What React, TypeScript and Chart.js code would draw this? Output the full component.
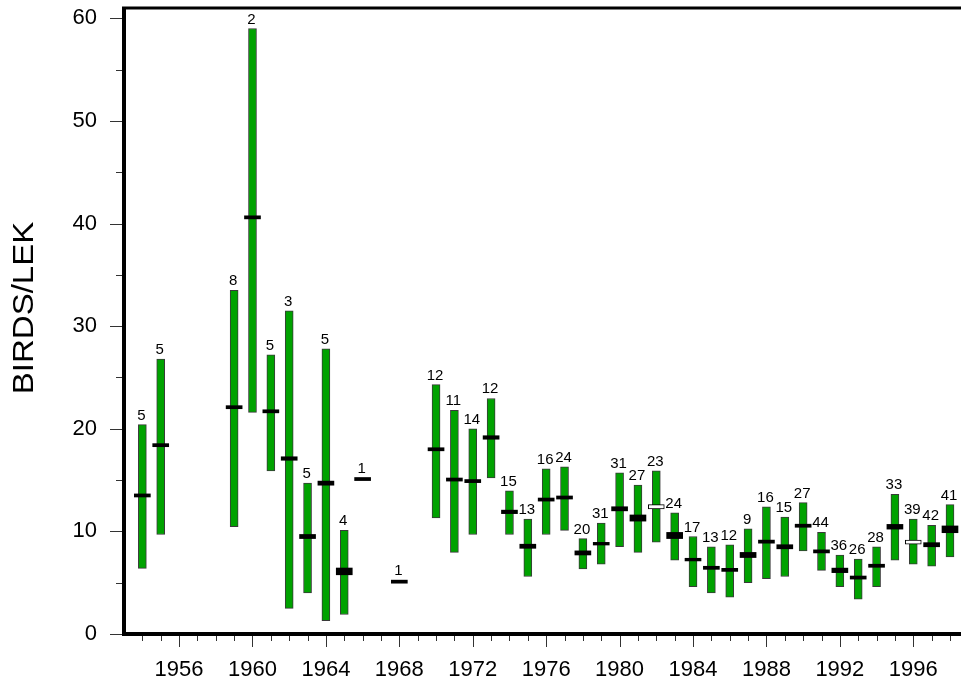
import { useEffect, useRef } from 'react';
import { Chart, registerables } from 'chart.js';

Chart.register(...registerables);

// ---- data ----
const years = [1954, 1955, 1959, 1960, 1961, 1962, 1963, 1964, 1965, 1966, 1968, 1970, 1971, 1972, 1973, 1974, 1975, 1976, 1977, 1978, 1979, 1980, 1981, 1982, 1983, 1984, 1985, 1986, 1987, 1988, 1989, 1990, 1991, 1992, 1993, 1994, 1995, 1996, 1997, 1998];
const lows: (number | null)[] = [6.4, 9.7, 10.45, 21.6, 15.9, 2.5, 4.0, 1.3, 1.9, null, null, 11.3, 7.95, 9.7, 15.2, 9.7, 5.6, 9.7, 10.1, 6.35, 6.8, 8.5, 7.95, 8.95, 7.2, 4.6, 4.0, 3.6, 5.0, 5.4, 5.6, 8.1, 6.2, 4.6, 3.4, 4.6, 7.2, 6.8, 6.6, 7.5];
const highs: (number | null)[] = [20.4, 26.8, 33.5, 59.0, 27.2, 31.5, 14.7, 27.8, 10.1, null, null, 24.3, 21.8, 20.0, 22.95, 13.95, 11.2, 16.1, 16.3, 9.3, 10.8, 15.7, 14.5, 15.9, 11.8, 9.5, 8.5, 8.7, 10.25, 12.4, 11.4, 12.8, 9.9, 7.7, 7.3, 8.5, 13.6, 11.2, 10.6, 12.6];
const means = [13.5, 18.4, 22.1, 40.6, 21.7, 17.1, 9.5, 14.7, 6.1, 15.1, 5.1, 18.0, 15.05, 14.9, 19.15, 11.9, 8.55, 13.1, 13.3, 7.9, 8.8, 12.2, 11.3, 12.4, 9.6, 7.25, 6.45, 6.25, 7.7, 9.0, 8.5, 10.55, 8.05, 6.2, 5.5, 6.65, 10.45, 8.95, 8.7, 10.2];
const stdErrs = [0.15, 0.15, 0.15, 0.15, 0.15, 0.17, 0.2, 0.2, 0.33, 0.15, 0.15, 0.15, 0.15, 0.15, 0.17, 0.17, 0.2, 0.15, 0.15, 0.2, 0.13, 0.2, 0.3, 0.2, 0.3, 0.13, 0.15, 0.15, 0.25, 0.15, 0.2, 0.15, 0.15, 0.22, 0.15, 0.15, 0.23, 0.2, 0.2, 0.33];
const lekCounts = [5, 5, 8, 2, 5, 3, 5, 5, 4, 1, 1, 12, 11, 14, 12, 15, 13, 16, 24, 20, 31, 31, 27, 23, 24, 17, 13, 12, 9, 16, 15, 27, 44, 36, 26, 28, 33, 39, 42, 41];
const openMeanYears = [1982, 1996];
const xTickLabels = [1956, 1960, 1964, 1968, 1972, 1976, 1980, 1984, 1988, 1992, 1996];
const yTickLabels = [0, 10, 20, 30, 40, 50, 60];
const yAxisTitle = 'BIRDS/LEK';

const FONT = 'Arial, "Liberation Sans", sans-serif';

export default function App() {
  const ref = useRef<HTMLCanvasElement | null>(null);

  useEffect(() => {
    const canvas = ref.current;
    if (!canvas) return;

    const rangeData = years.map((y, i) => ({ x: y, y: lows[i] == null ? null : [lows[i], highs[i]] }));
    const meanData = years.map((y, i) => ({ x: y, y: [means[i] - stdErrs[i], means[i] + stdErrs[i]] }));
    const isOpen = (i: number) => openMeanYears.includes(years[i]);

    const axesPlugin = {
      id: 'customAxes',
      afterDraw(chart: any) {
        const ctx = chart.ctx as CanvasRenderingContext2D;
        const xs = chart.scales.x;
        const ys = chart.scales.y;
        const area = chart.chartArea;
        ctx.save();
        // ticks
        ctx.strokeStyle = '#333';
        ctx.lineWidth = 1;
        for (let v = 0; v <= 60; v += 5) {
          const py = Math.round(ys.getPixelForValue(v)) + 0.5;
          const len = v % 10 === 0 ? 14 : 8;
          ctx.beginPath();
          ctx.moveTo(area.left - len, py);
          ctx.lineTo(area.left, py);
          ctx.stroke();
        }
        for (let yr = Math.ceil(xs.min + 0.5); yr <= Math.floor(xs.max); yr++) {
          const px = Math.round(xs.getPixelForValue(yr)) + 0.5;
          const len = yr % 4 === 0 ? 13 : 7;
          ctx.beginPath();
          ctx.moveTo(px, area.bottom);
          ctx.lineTo(px, area.bottom + len);
          ctx.stroke();
        }
        // axis lines
        ctx.strokeStyle = '#000';
        ctx.lineWidth = 4;
        ctx.beginPath();
        ctx.moveTo(area.left, area.top);
        ctx.lineTo(area.left, area.bottom + 2);
        ctx.stroke();
        ctx.beginPath();
        ctx.moveTo(area.left - 2, area.bottom);
        ctx.lineTo(area.right, area.bottom);
        ctx.stroke();
        ctx.lineWidth = 3;
        ctx.beginPath();
        ctx.moveTo(area.left - 2, area.top);
        ctx.lineTo(area.right, area.top);
        ctx.stroke();
        // tick labels
        ctx.fillStyle = '#000';
        ctx.font = `22px ${FONT}`;
        ctx.textAlign = 'center';
        ctx.textBaseline = 'alphabetic';
        xTickLabels.forEach((yr) => {
          ctx.fillText(String(yr), xs.getPixelForValue(yr), area.bottom + 42);
        });
        ctx.textAlign = 'right';
        yTickLabels.forEach((v) => {
          ctx.fillText(String(v), area.left - 27, ys.getPixelForValue(v) + 6);
        });
        // axis title
        ctx.save();
        ctx.translate(33, (area.top + area.bottom) / 2 - 13);
        ctx.rotate(-Math.PI / 2);
        ctx.scale(1.1, 1);
        ctx.textAlign = 'center';
        ctx.font = `30px ${FONT}`;
        ctx.fillText(yAxisTitle, 0, 0);
        ctx.restore();
        ctx.restore();
      },
      afterDatasetsDraw(chart: any) {
        const ctx = chart.ctx as CanvasRenderingContext2D;
        const xs = chart.scales.x;
        const ys = chart.scales.y;
        ctx.save();
        ctx.fillStyle = '#000';
        ctx.font = `15px ${FONT}`;
        ctx.textAlign = 'center';
        ctx.textBaseline = 'alphabetic';
        years.forEach((yr, i) => {
          const topVal = highs[i] != null ? (highs[i] as number) : means[i] + stdErrs[i];
          const px = xs.getPixelForValue(yr);
          const py = ys.getPixelForValue(topVal);
          ctx.fillText(String(lekCounts[i]), px - 1, py - 5);
        });
        ctx.restore();
      },
    };

    const chart = new Chart(canvas, {
      type: 'bar',
      data: {
        datasets: [
          {
            label: 'mean',
            data: meanData as any,
            order: 0,
            grouped: false,
            barThickness: 16,
            backgroundColor: (c: any) => (isOpen(c.dataIndex) ? '#ffffff' : '#000000'),
            borderColor: '#000000',
            borderWidth: (c: any) => (isOpen(c.dataIndex) ? 1 : 0),
            borderSkipped: false,
          } as any,
          {
            label: 'range',
            data: rangeData as any,
            order: 1,
            grouped: false,
            barThickness: 8,
            backgroundColor: '#00a200',
            borderColor: '#3a3a3a',
            borderWidth: 1,
            borderSkipped: false,
          } as any,
        ],
      },
      options: {
        responsive: false,
        animation: false,
        devicePixelRatio: 1,
        layout: { padding: { left: 124, top: 8, right: 0, bottom: 50 } },
        plugins: { legend: { display: false }, tooltip: { enabled: false } },
        scales: {
          x: { type: 'linear', min: 1953, max: 1998.6, offset: false, display: false },
          y: { type: 'linear', min: 0, max: 61, display: false },
        },
      },
      plugins: [axesPlugin],
    });

    return () => chart.destroy();
  }, []);

  return (
    <div style={{ position: 'absolute', left: 0, top: 0, width: 961, height: 684, background: '#fff' }}>
      <canvas ref={ref} width={961} height={684} />
    </div>
  );
}
